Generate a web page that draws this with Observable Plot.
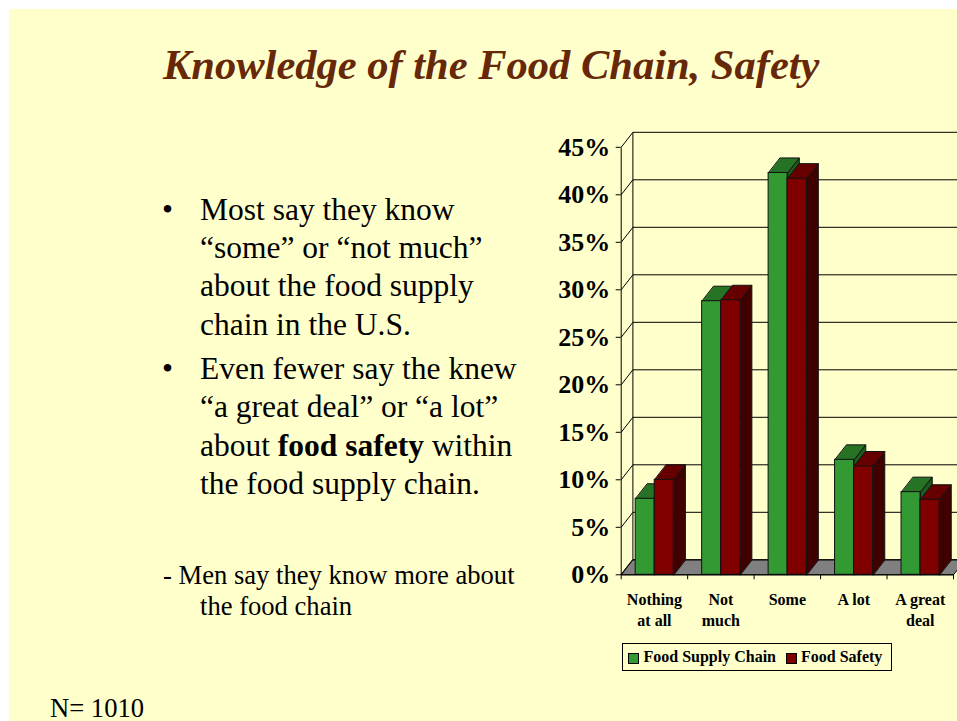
<!DOCTYPE html>
<html>
<head>
<meta charset="utf-8">
<script src="https://cdn.jsdelivr.net/npm/d3@7"></script>
<script src="https://cdn.jsdelivr.net/npm/@observablehq/plot@0.6"></script>
<style>
  html, body { margin: 0; padding: 0; width: 957px; height: 721px; overflow: hidden; background: #ffffff; }
  #slide { position: absolute; left: 9px; top: 9px; width: 948px; height: 712px; background: #FFFFCC; }
  .t { position: absolute; font-family: "Liberation Serif", "Times New Roman", serif; color: #000; white-space: nowrap; line-height: 1; }
  #chart { position: absolute; left: 540px; top: 120px; width: 417px; height: 520px; }
  #legend { position: absolute; left: 622px; top: 643px; width: 270px; height: 28px; box-sizing: border-box; border: 1px solid #000; background: #FFFFCC; }
  .sw { position: absolute; width: 11px; height: 11px; box-sizing: border-box; border: 1px solid #000; }
</style>
</head>
<body>
<div id="slide"></div>
<div id="texts"></div>
<div id="chart"></div>
<div id="legend"></div>
<script>
// ---- Data ----
const categories = ["Nothing\nat all", "Not\nmuch", "Some", "A lot", "A great\ndeal"];
const supplyChain = [8.0, 28.8, 42.3, 12.1, 8.7];
const foodSafety = [10.0, 28.9, 41.7, 11.4, 7.9];
const seriesNames = ["Food Supply Chain", "Food Safety"];
const yTicks = [0, 5, 10, 15, 20, 25, 30, 35, 40, 45];

const titleText = "Knowledge of the Food Chain, Safety";
const bullet1 = ["Most say they know", "\u201csome\u201d or \u201cnot much\u201d", "about the food supply", "chain in the U.S."];
const bullet2 = ["Even fewer say the knew", "\u201ca great deal\u201d or \u201ca lot\u201d", "about <b>food safety</b> within", "the food supply chain."];
const note = ["- Men say they know more about", "the food chain"];
const sampleNote = "N= 1010";

// ---- Styles ----
const frontColors = ["#339933", "#800000"];
const topColors = ["#267326", "#660000"];
const sideColors = ["#1f5c1f", "#400000"];
const serif = "'Liberation Serif', 'Times New Roman', serif";

// ---- Text (HTML) ----
const texts = document.getElementById("texts");
function addText(html, left, baseline, size, extra) {
  const d = document.createElement("div");
  d.className = "t";
  d.innerHTML = html;
  d.style.left = left + "px";
  d.style.top = (baseline - 0.8375 * size) + "px";
  d.style.fontSize = size + "px";
  if (extra) Object.assign(d.style, extra);
  texts.appendChild(d);
}
addText(titleText, 163, 80, 42.5, {fontWeight: "bold", fontStyle: "italic", color: "#662808"});
const lh = 38.4;
addText("\u2022", 162, 220, 31.5);
bullet1.forEach((s, i) => addText(s, 200, 220 + i * lh, 31.5));
addText("\u2022", 162, 379.3, 31.5);
bullet2.forEach((s, i) => addText(s, 200, 379.3 + i * lh, 31.5));
addText(note[0], 163, 584, 26.6);
addText(note[1], 200, 615, 26.6);
addText(sampleNote, 50, 717, 26.6);

// ---- 3D geometry helpers (depth in data units) ----
const GAP = 0.218, BW = 0.286, DX = 0.176, DY = 1.579;
const bars = [];
[supplyChain, foodSafety].forEach((vals, s) => vals.forEach((v, i) => {
  const x0 = i + GAP + s * BW;
  bars.push({s, i, x0, x1: x0 + BW, y0: 0, v});
}));
function poly(id, pts) { return pts.map(([x, y]) => ({id, x, y})); }
const tops = bars.flatMap(b => poly(b.s + "-" + b.i, [[b.x0, b.v], [b.x1, b.v], [b.x1 + DX, b.v + DY], [b.x0 + DX, b.v + DY]]).map(p => ({...p, s: b.s})));
const sides = bars.flatMap(b => poly(b.s + "-" + b.i, [[b.x1, 0], [b.x1, b.v], [b.x1 + DX, b.v + DY], [b.x1 + DX, DY]]).map(p => ({...p, s: b.s})));
const n = categories.length;
const floor = poly("floor", [[0, 0], [n, 0], [n + DX, DY], [DX, DY]]);

const barMarks = [0, 1].flatMap(s => [
  Plot.line(sides.filter(d => d.s === s), {x: "x", y: "y", z: "id", curve: "linear-closed", fill: sideColors[s], stroke: "#111", strokeWidth: 1, strokeLinejoin: "miter"}),
  Plot.line(tops.filter(d => d.s === s), {x: "x", y: "y", z: "id", curve: "linear-closed", fill: topColors[s], stroke: "#111", strokeWidth: 1, strokeLinejoin: "miter"}),
  Plot.rect(bars.filter(d => d.s === s), {x1: "x0", x2: "x1", y1: "y0", y2: "v", fill: frontColors[s], stroke: "#111", strokeWidth: 1})
]);

const chart = Plot.plot({
  width: 417,
  height: 520,
  marginLeft: 80.7,
  marginRight: 4,
  marginTop: 26.8,
  marginBottom: 65.7,
  x: {domain: [0, n]},
  y: {domain: [0, 45]},
  style: {fontFamily: serif, background: "transparent", color: "#000", overflow: "visible"},
  marks: [
    Plot.line(floor, {x: "x", y: "y", z: "id", curve: "linear-closed", fill: "#808080", stroke: "#000", strokeWidth: 1, strokeLinejoin: "miter"}),
    Plot.link(yTicks, {x1: DX, x2: n + DX + 1, y1: d => d + DY, y2: d => d + DY, stroke: "#000", strokeWidth: 1}),
    Plot.link(yTicks, {x1: 0, x2: DX, y1: d => d, y2: d => d + DY, stroke: "#000", strokeWidth: 1}),
    Plot.link([0], {x1: 0, x2: 0, y1: 0, y2: 45, stroke: "#000", strokeWidth: 1}),
    Plot.link([0], {x1: DX, x2: DX, y1: DY, y2: 45 + DY, stroke: "#000", strokeWidth: 1}),
    ...barMarks,
    Plot.link([0], {x1: 0, x2: n, y1: 0, y2: 0, stroke: "#000", strokeWidth: 1}),
    Plot.axisY({ticks: yTicks, tickFormat: d => d + "%", tickSize: 5, tickPadding: 6, fontSize: 26, fontWeight: "bold", label: null}),
    Plot.axisX({ticks: d3.range(n + 1), tickFormat: () => "", tickSize: 5, label: null}),
    Plot.axisX({ticks: categories.map((c, i) => i + 0.5), tickFormat: d => categories[Math.floor(d)], tickSize: 0, tickPadding: 16, fontSize: 16, fontWeight: "bold", lineHeight: 1.29, label: null})
  ]
});
document.getElementById("chart").appendChild(chart);

// ---- Legend (HTML) ----
const legend = document.getElementById("legend");
const swX = [5, 163];
const txX = [20.5, 178];
seriesNames.forEach((name, s) => {
  const sw = document.createElement("div");
  sw.className = "sw";
  sw.style.left = swX[s] + "px";
  sw.style.top = "9px";
  sw.style.background = frontColors[s];
  legend.appendChild(sw);
  const t = document.createElement("div");
  t.className = "t";
  t.textContent = name;
  t.style.fontSize = "16px";
  t.style.fontWeight = "bold";
  t.style.left = txX[s] + "px";
  t.style.top = (19.7 - 0.8375 * 16 - 1) + "px";
  legend.appendChild(t);
});
</script>
</body>
</html>
